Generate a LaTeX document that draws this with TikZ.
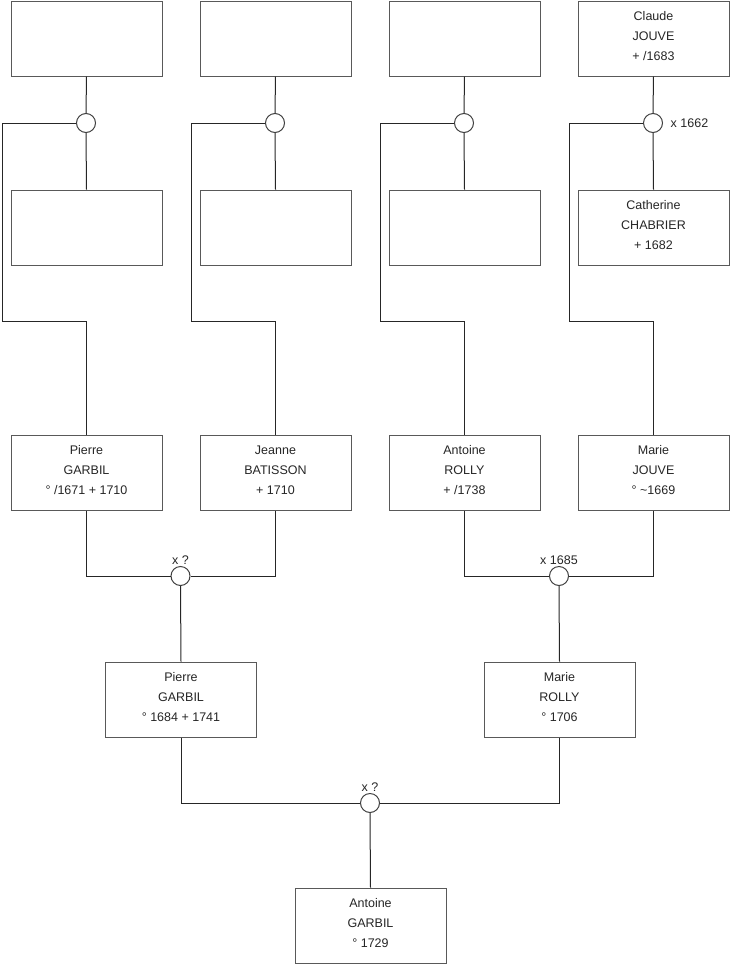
\documentclass[tikz,border=0pt]{standalone}
\usepackage{fontspec}
\setmainfont{Liberation Sans}
\newcommand{\persontext}[3]{\rule{0pt}{10pt}#1\\#2\\#3\rule[-7pt]{0pt}{7pt}}
\begin{document}
\begin{tikzpicture}[x=1pt,y=-1pt,
  person/.style={draw=black!65, line width=1pt, fill=white, minimum width=151pt, minimum height=75pt,
    inner sep=0pt, align=center, anchor=north west, text=black!85,
    font=\fontsize{12.5}{20}\selectfont},
  union/.style={circle, draw=black!75, line width=1pt, fill=white, minimum size=19pt, inner sep=0pt},
  link/.style={draw=black!85, line width=1pt},
  ulabel/.style={font=\fontsize{12.5}{15}\selectfont, text=black!85, inner sep=1.5pt}]
\useasboundingbox (0,0) rectangle (740,975);
% top row (fathers)
\node[person] (f1) at (10.5,0.5) {};
\node[person] (f2) at (199.5,0.5) {};
\node[person] (f3) at (388.5,0.5) {};
\node[person] (f4) at (577.5,0.5) {\persontext{Claude}{JOUVE}{+ /1683}};
% unions
\node[union] (c1) at (86,123) {};
\node[union] (c2) at (275,123) {};
\node[union] (c3) at (464,123) {};
\node[union] (c4) at (653,123) {};
\node[ulabel, anchor=west] (l4) at (c4.east) {\hspace{6pt}x 1662};
% second row (mothers)
\node[person] (m1) at (10.5,189.5) {};
\node[person] (m2) at (199.5,189.5) {};
\node[person] (m3) at (388.5,189.5) {};
\node[person] (m4) at (577.5,189.5) {\persontext{Catherine}{CHABRIER}{+ 1682}};
% third row
\node[person] (p1) at (10.5,435) {\persontext{Pierre}{GARBIL}{° /1671 + 1710}};
\node[person] (p2) at (199.5,435) {\persontext{Jeanne}{BATISSON}{+ 1710}};
\node[person] (p3) at (388.5,435) {\persontext{Antoine}{ROLLY}{+ /1738}};
\node[person] (p4) at (577.5,435) {\persontext{Marie}{JOUVE}{° \textasciitilde1669}};
% couples
\node[union] (u1) at (180.5,576) {};
\node[union] (u2) at (559,576) {};
\node[ulabel, anchor=south] (lu1) at (u1.north) {x ?};
\node[ulabel, anchor=south] (lu2) at (u2.north) {x 1685};
% fourth row
\node[person] (q1) at (105,661.5) {\persontext{Pierre}{GARBIL}{° 1684 + 1741}};
\node[person] (q2) at (483.5,661.5) {\persontext{Marie}{ROLLY}{° 1706}};
\node[union] (u3) at (370,803) {};
\node[ulabel, anchor=south] (lu3) at (u3.north) {x ?};
% last
\node[person] (r) at (294.5,887.5) {\persontext{Antoine}{GARBIL}{° 1729}};
% bend coordinates
\coordinate (k1) at (2,321.5);
\coordinate (k2) at (191,321.5);
\coordinate (k3) at (380,321.5);
\coordinate (k4) at (569,321.5);
% connectors
\foreach \i in {1,2,3,4}{
  \draw[link] (f\i.south) -- (c\i.north);
  \draw[link] (c\i.south) -- (m\i.north);
  \draw[link] (c\i.west) -| (k\i) -| (p\i.north);
}
\draw[link] (p1.south) |- (u1.west);
\draw[link] (p2.south) |- (u1.east);
\draw[link] (p3.south) |- (u2.west);
\draw[link] (p4.south) |- (u2.east);
\draw[link] (u1.south) -- (q1.north);
\draw[link] (u2.south) -- (q2.north);
\draw[link] (q1.south) |- (u3.west);
\draw[link] (q2.south) |- (u3.east);
\draw[link] (u3.south) -- (r.north);
\end{tikzpicture}
\end{document}
